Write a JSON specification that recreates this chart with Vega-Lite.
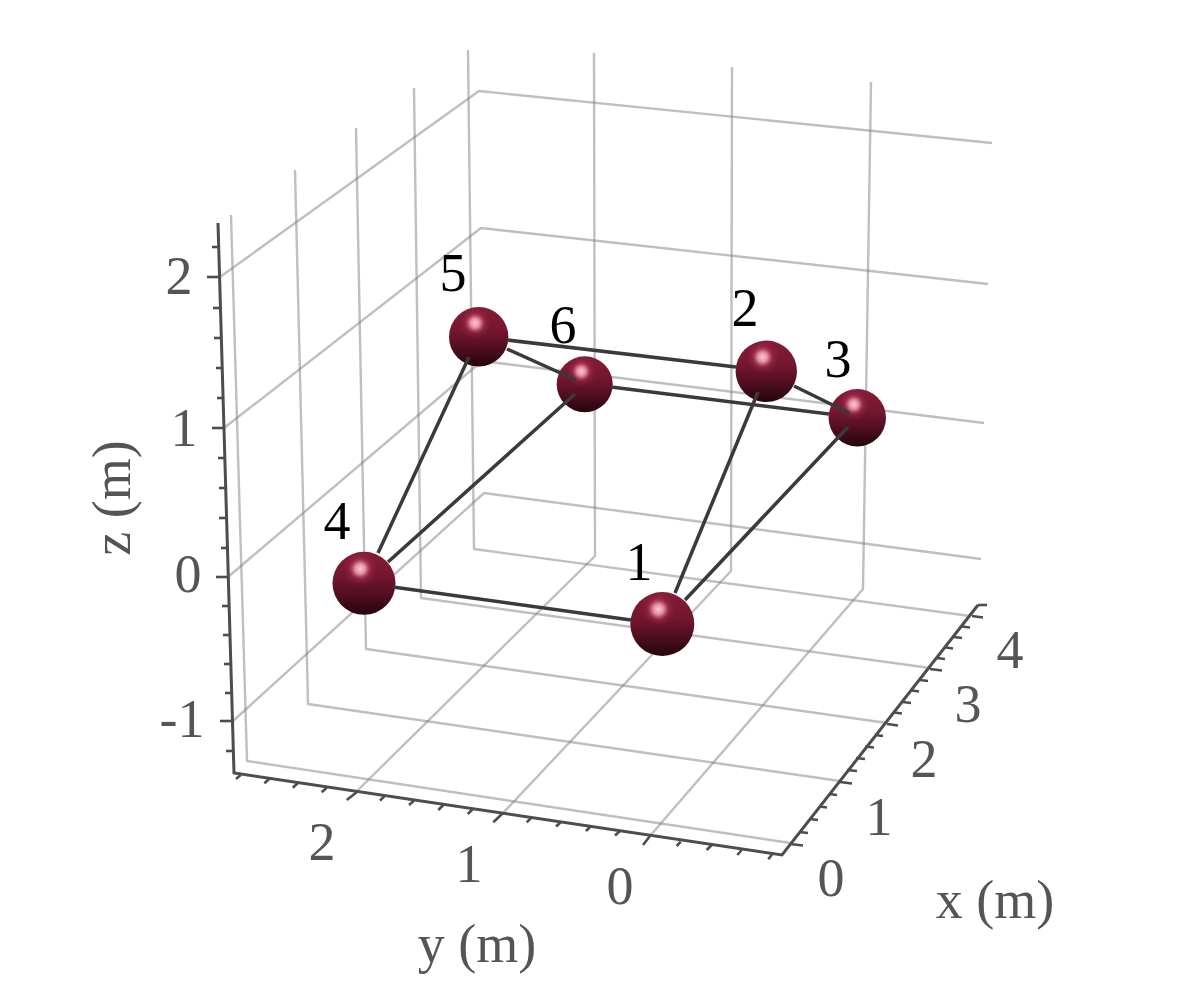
{
"$schema":"https://vega.github.io/schema/vega-lite/v6.json",
"autosize":{"type":"fit","contains":"padding"},
"width":1196,"height":1004,"padding":0,"background":"white",
"config":{"view":{"stroke":null}},
"datasets":{
"grid":[
{"s":"x0","o":0,"u":231,"v":215},{"s":"x0","o":1,"u":247,"v":761},{"s":"x0","o":2,"u":790,"v":843},
{"s":"x1","o":0,"u":295,"v":170},{"s":"x1","o":1,"u":308,"v":704},{"s":"x1","o":2,"u":840,"v":781},
{"s":"x2","o":0,"u":356,"v":128},{"s":"x2","o":1,"u":366,"v":649},{"s":"x2","o":2,"u":887,"v":723},
{"s":"x3","o":0,"u":414,"v":88},{"s":"x3","o":1,"u":421,"v":598},{"s":"x3","o":2,"u":930,"v":668},
{"s":"x4","o":0,"u":468,"v":50},{"s":"x4","o":1,"u":474,"v":549},{"s":"x4","o":2,"u":970,"v":616},
{"s":"y2","o":0,"u":594,"v":53},{"s":"y2","o":1,"u":595,"v":556},{"s":"y2","o":2,"u":356,"v":792},
{"s":"y1","o":0,"u":732,"v":67},{"s":"y1","o":1,"u":731,"v":571},{"s":"y1","o":2,"u":503,"v":813},
{"s":"y0","o":0,"u":871,"v":82},{"s":"y0","o":1,"u":863,"v":589},{"s":"y0","o":2,"u":650,"v":836},
{"s":"z2","o":0,"u":220,"v":277},{"s":"z2","o":1,"u":479,"v":91},{"s":"z2","o":2,"u":992,"v":143},
{"s":"z1","o":0,"u":224,"v":428},{"s":"z1","o":1,"u":481,"v":228},{"s":"z1","o":2,"u":988,"v":284},
{"s":"z0","o":0,"u":228,"v":577},{"s":"z0","o":1,"u":482,"v":361},{"s":"z0","o":2,"u":984,"v":423},
{"s":"zm1","o":0,"u":233,"v":721},{"s":"zm1","o":1,"u":484,"v":493},{"s":"zm1","o":2,"u":981,"v":559}
],
"axes":[
{"o":0,"u":218,"v":223},{"o":1,"u":234,"v":773},{"o":2,"u":782,"v":855},{"o":3,"u":978,"v":605}
],
"ticks":[
{"u":212,"v":247,"u2":220,"v2":247},{"u":207,"v":277,"u2":220,"v2":277},{"u":213,"v":308,"u2":221,"v2":308},{"u":214,"v":338,"u2":221,"v2":338},{"u":216,"v":368,"u2":222,"v2":368},{"u":217,"v":398,"u2":223,"v2":398},{"u":212,"v":428,"u2":224,"v2":428},{"u":218,"v":458,"u2":225,"v2":458},{"u":219,"v":488,"u2":226,"v2":488},{"u":219,"v":518,"u2":227,"v2":518},{"u":221,"v":548,"u2":228,"v2":548},{"u":216,"v":577,"u2":228,"v2":577},{"u":222,"v":606,"u2":229,"v2":606},{"u":223,"v":635,"u2":230,"v2":635},{"u":224,"v":664,"u2":231,"v2":664},{"u":225,"v":693,"u2":232,"v2":693},{"u":220,"v":721,"u2":233,"v2":721},{"u":226,"v":751,"u2":233,"v2":751},
{"u":240.7,"v":775,"u2":236,"v2":779},{"u":269.3,"v":779,"u2":264.3,"v2":783.3},{"u":297.7,"v":783.3,"u2":292.7,"v2":787.7},{"u":326.7,"v":787.7,"u2":321.7,"v2":792.3},{"u":356.7,"v":792.3,"u2":346.7,"v2":800},{"u":385,"v":795.7,"u2":380,"v2":800.7},{"u":414,"v":800.7,"u2":409,"v2":805},{"u":443.3,"v":805,"u2":438.3,"v2":810},{"u":472.7,"v":809.3,"u2":467.7,"v2":814},{"u":502.7,"v":813.3,"u2":493.3,"v2":822.3},{"u":531.7,"v":817.3,"u2":526.7,"v2":822.3},{"u":561,"v":822,"u2":556,"v2":826.5},{"u":591,"v":826,"u2":586,"v2":831},{"u":620,"v":831,"u2":615,"v2":835.5},{"u":650,"v":836,"u2":643,"v2":845},{"u":680.7,"v":841.7,"u2":676.7,"v2":846},{"u":711.7,"v":845,"u2":706.7,"v2":850},{"u":741.7,"v":850,"u2":737.3,"v2":855},{"u":772.3,"v":854,"u2":768.3,"v2":859.3},
{"u":790,"v":844,"u2":803,"v2":845.5},{"u":800,"v":832,"u2":808,"v2":833},{"u":810,"v":819,"u2":818,"v2":820},{"u":819,"v":806.5,"u2":827,"v2":807.5},{"u":829,"v":794,"u2":837,"v2":795},{"u":840,"v":782,"u2":852,"v2":783.5},{"u":847,"v":770,"u2":857,"v2":771},{"u":856,"v":758,"u2":865,"v2":759},{"u":865,"v":746.5,"u2":874,"v2":747.5},{"u":875,"v":735,"u2":883,"v2":736},{"u":887,"v":724,"u2":898,"v2":725.5},{"u":894,"v":712.5,"u2":902,"v2":713.5},{"u":903,"v":702,"u2":911,"v2":703},{"u":912,"v":690.5,"u2":919,"v2":691.5},{"u":920,"v":680,"u2":928,"v2":681},{"u":930,"v":669,"u2":942,"v2":670.5},{"u":937,"v":658,"u2":945,"v2":659},{"u":946,"v":647.5,"u2":953,"v2":648.5},{"u":954,"v":637,"u2":962,"v2":638},{"u":962,"v":626.5,"u2":970,"v2":627.5},{"u":972,"v":616,"u2":983,"v2":617.5},{"u":978,"v":605,"u2":987,"v2":605}
],
"members":[
{"from":5,"to":2,"u":507,"v":340,"u2":736,"v2":367},
{"from":6,"to":3,"u":611,"v":387,"u2":829,"v2":414},
{"from":2,"to":3,"u":794,"v":386,"u2":849,"v2":413},
{"from":5,"to":6,"u":507,"v":349,"u2":576,"v2":380},
{"from":1,"to":2,"u":675,"v":593,"u2":758,"v2":392},
{"from":1,"to":3,"u":685,"v":600,"u2":848,"v2":427},
{"from":4,"to":5,"u":378,"v":553,"u2":469,"v2":357},
{"from":4,"to":6,"u":388,"v":562,"u2":575,"v2":394},
{"from":4,"to":1,"u":393,"v":587,"u2":631,"v2":620}
],
"nodes":[
{"node":"6","u":584.7,"v":384.3,"nearness":0},
{"node":"5","u":478.7,"v":336.8,"nearness":0.41},
{"node":"3","u":857.3,"v":417.7,"nearness":0.17},
{"node":"2","u":766.3,"v":371.3,"nearness":0.66},
{"node":"4","u":364,"v":583.3,"nearness":0.87},
{"node":"1","u":662.3,"v":624,"nearness":1}
],
"nodeLabels":[
{"t":"5","u":453,"v":291},{"t":"6","u":563,"v":343},{"t":"2","u":745,"v":326},{"t":"3","u":838,"v":377},{"t":"4","u":337,"v":539},{"t":"1","u":639,"v":580}
],
"tickLabels":[
{"t":"2","u":179,"v":294},{"t":"1","u":184,"v":446},{"t":"0","u":188,"v":592},{"t":"-1","u":182,"v":737},
{"t":"2","u":322,"v":860},{"t":"1","u":469,"v":882},{"t":"0","u":620,"v":904},
{"t":"0","u":831,"v":896},{"t":"1","u":879,"v":835},{"t":"2","u":924,"v":777},{"t":"3","u":968,"v":722},{"t":"4","u":1010,"v":668},
{"t":"y (m)","u":477,"v":962},{"t":"x (m)","u":995,"v":918}
],
"zTitle":[{"t":"z (m)","u":130,"v":498}]
},
"encoding":{
"x":{"field":"u","type":"quantitative","scale":{"domain":[0,1196],"nice":false,"zero":false},"axis":null},
"y":{"field":"v","type":"quantitative","scale":{"domain":[1004,0],"nice":false,"zero":false},"axis":null}
},
"layer":[
{"data":{"name":"grid"},"mark":{"type":"line","stroke":"#808080","strokeOpacity":0.5,"strokeWidth":2.4,"strokeJoin":"round"},"encoding":{"detail":{"field":"s"},"order":{"field":"o"}}},
{"data":{"name":"axes"},"mark":{"type":"line","stroke":"#4d4d4d","strokeWidth":3},"encoding":{"order":{"field":"o"}}},
{"data":{"name":"ticks"},"mark":{"type":"rule","stroke":"#4d4d4d","strokeWidth":2.6},"encoding":{"x2":{"field":"u2"},"y2":{"field":"v2"}}},
{"data":{"name":"nodes"},"mark":{"type":"circle","opacity":1,"fill":{"gradient":"linear","x1":0.5,"y1":0,"x2":0.5,"y2":1,"stops":[{"offset":0,"color":"#861c36"},{"offset":0.4,"color":"#74162f"},{"offset":0.7,"color":"#4f0e20"},{"offset":0.88,"color":"#340913"},{"offset":1,"color":"#260510"}]}},"encoding":{"size":{"field":"nearness","type":"quantitative","scale":{"domain":[0,1],"range":[3136,4096]},"legend":null}}},
{"data":{"name":"nodes"},"mark":{"type":"circle","opacity":1,"fill":{"gradient":"radial","x1":0.44,"y1":0.27,"r1":0,"x2":0.44,"y2":0.27,"r2":0.28,"stops":[{"offset":0,"color":"rgba(250,205,216,1)"},{"offset":0.3,"color":"rgba(240,150,175,0.9)"},{"offset":0.6,"color":"rgba(180,60,95,0.35)"},{"offset":1,"color":"rgba(140,28,58,0)"}]}},"encoding":{"size":{"field":"nearness","type":"quantitative","scale":{"domain":[0,1],"range":[3136,4096]},"legend":null}}},
{"data":{"name":"members"},"mark":{"type":"rule","stroke":"#3a3a3a","strokeWidth":3.5},"encoding":{"x2":{"field":"u2"},"y2":{"field":"v2"}}},
{"data":{"name":"nodeLabels"},"mark":{"type":"text","font":"Liberation Serif","fontSize":54,"fill":"#000000","align":"center","baseline":"alphabetic"},"encoding":{"text":{"field":"t"}}},
{"data":{"name":"tickLabels"},"mark":{"type":"text","font":"Liberation Serif","fontSize":54,"fill":"#555555","align":"center","baseline":"alphabetic"},"encoding":{"text":{"field":"t"}}},
{"data":{"name":"zTitle"},"mark":{"type":"text","font":"Liberation Serif","fontSize":54,"fill":"#555555","align":"center","baseline":"alphabetic","angle":270},"encoding":{"text":{"field":"t"}}}
]
}
